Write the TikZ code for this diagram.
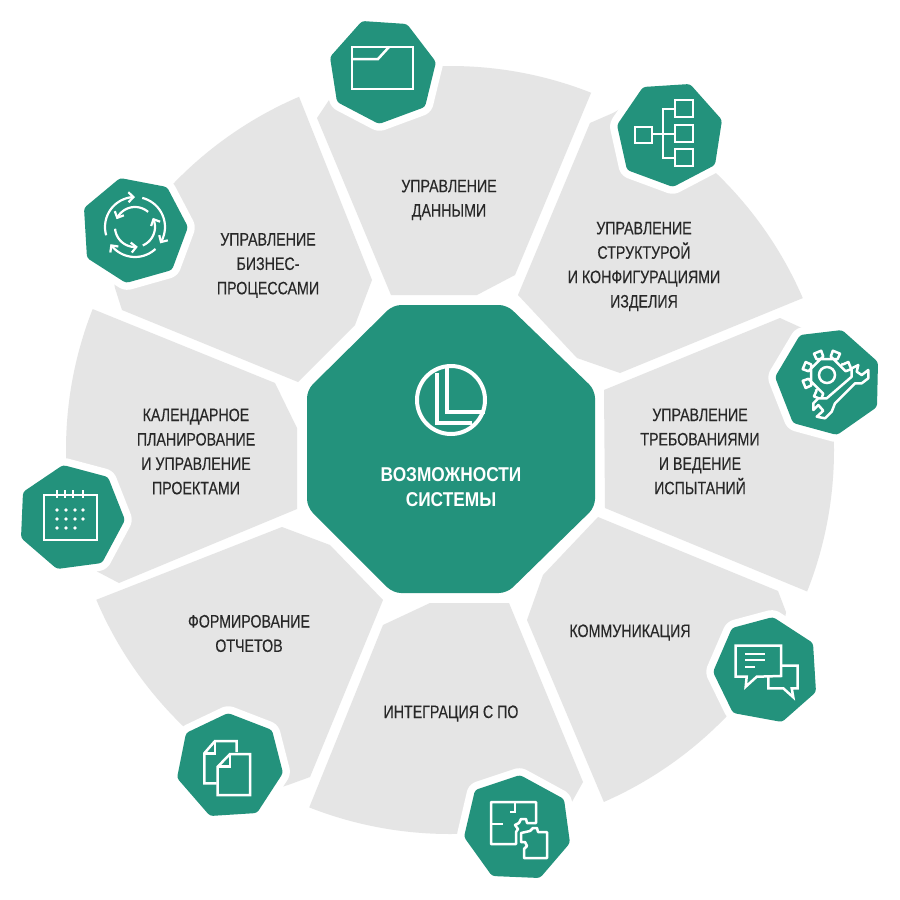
\documentclass[tikz,border=0pt]{standalone}
\usepackage{fontspec}
\usetikzlibrary{arrows.meta}
\newfontfamily\lblfont[FakeStretch=0.79,FakeBold=0.25]{Liberation Sans}
\newfontfamily\hubfont[FakeStretch=0.865]{Liberation Sans}
\definecolor{teal}{RGB}{35,146,124}
\definecolor{pale}{RGB}{229,229,229}
\definecolor{ink}{RGB}{40,40,40}
\tikzset{
  sector/.style={fill=pale,draw=none},
  badge/.style={fill=teal,rounded corners=3pt,preaction={draw=white,line width=15pt,line join=round,rounded corners=3pt}},
  glyph/.style={draw=white,line width=2.5pt,line join=miter},
  cyc/.style={draw=white,line width=2.2pt,-{Straight Barb[length=5pt,width=10pt,line width=2.2pt]}},
  lbl/.style={text=ink,align=center,inner sep=0pt,font=\lblfont\fontsize{18}{24.4}\selectfont},
  hub/.style={text=white,align=center,inner sep=0pt,font=\hubfont\bfseries\fontsize{20}{24.5}\selectfont},
}
\begin{document}
\begin{tikzpicture}[x=1pt,y=-1pt]
\useasboundingbox (0,0) rectangle (900,900);
\fill[white] (0,0) rectangle (900,900);
% sectors, all cut by one circle
\begin{scope}
\clip (450,450) circle (384pt);
\fill[sector] (317,118)--(329,100)--(350,40)--(614,38)--(591,93)--(515,275)--(477,295)--(391,295)--cycle;
\fill[sector] (590,123)--(613,113)--(690,70)--(845,282)--(803,298)--(620,373)--(577,358)--(518,295)--cycle;
\fill[sector] (604,390)--(780,318)--(802,328)--(860,380)--(880,450)--(870,560)--(860,613)--(806,591)--(605,508)--cycle;
\fill[sector] (598,517)--(778,591)--(786,612)--(770,720)--(617,833)--(527,620)--(543,575)--cycle;
\fill[sector] (430,603)--(509,603)--(583,782)--(573,800)--(540,860)--(290,855)--(383,625)--cycle;
\fill[sector] (282,527)--(60,614)--(240,800)--(288,785)--(310,777)--(383,600)--(330,545)--cycle;
\fill[sector] (95,310)--(275,383)--(297,428)--(297,509)--(119,583)--(98,572)--(60,540)--(40,450)--(60,296)--cycle;
\fill[sector] (122,310)--(298,382)--(355,325)--(372,280)--(286,64)--(100,200)--(115,288)--cycle;
\end{scope}
% hub
\fill[teal,rounded corners=8pt] (393,305)--(507,305)--(595,390)--(595,507)--(507,593)--(393,593)--(307,507)--(307,390)--cycle;
\draw[white,line width=4pt] (451,400) circle (34pt);
\draw[white,line width=3.2pt,line join=miter] (437,373)--(437,423)--(472,423);
\draw[white,line width=3.4pt,line join=miter] (447,367)--(447,412)--(485,412);
\node[hub] (hubtext) at (451,487) {ВОЗМОЖНОСТИ\\СИСТЕМЫ};
% badges
\path[badge] (362,21)--(407,24)--(436,62)--(425,107)--(379,124)--(337,102)--(330,57)--cycle;
\path[badge] (643,87)--(690,84)--(722,120)--(715,165)--(673,187)--(627,170)--(617,125)--cycle;
\path[badge] (800,335)--(842,330)--(878,362)--(877,407)--(837,435)--(793,423)--(775,377)--cycle;
\path[badge] (773,617)--(813,643)--(816,692)--(782,722)--(733,713)--(713,672)--(732,628)--cycle;
\path[badge] (520,775)--(564,799)--(570,843)--(540,878)--(492,876)--(464,837)--(475,790)--cycle;
\path[badge] (228,713)--(272,730)--(283,773)--(257,813)--(210,816)--(177,778)--(186,733)--cycle;
\path[badge] (63,465)--(108,477)--(125,520)--(102,563)--(57,569)--(21,538)--(23,492)--cycle;
\path[badge] (120,178)--(167,187)--(188,227)--(172,270)--(126,283)--(87,258)--(84,208)--cycle;
% folder
\draw[glyph] (352,47) rectangle (413,89);
\draw[glyph] (352,59)--(378,59)--(389,47);
% structure
\draw[glyph] (635,127) rectangle (652,143);
\draw[glyph] (675,100) rectangle (693,117);
\draw[glyph] (675,125) rectangle (693,142);
\draw[glyph] (675,149) rectangle (693,166);
\draw[glyph] (675,109)--(663,109)--(663,158)--(675,158);
\draw[glyph] (652,134)--(675,134);
% gear and wrench
\begin{scope}[shift={(827,375)}]
\draw[glyph,line join=round] (-38:18) \foreach \a in {-22.5,-67.5,-112.5,-157.5,157.5,112.5}{ -- (\a-11:19) -- (\a-9:25) -- (\a+9:25) -- (\a+11:19)} -- (128:18);
\draw[glyph] (0,0) circle (8pt);
\end{scope}
\draw[glyph,fill=teal,line join=round] (851.7,376.7)--(851.7,368.3)--(858.3,365)--(856.7,371.7)--(861.7,375)--(868.3,370)--(868.3,378.3)--(861.7,383.3)--(855,383.3)--(835,403.3)--(831.7,411.7)--(825,418.3)--(816.7,416.7)--(823.3,410.7)--(818.3,405)--(813.3,410)--(813.3,403.3)--(818.3,398.3)--(826.7,398.3)--cycle;
% chat
\draw[glyph] (735.7,645.7)--(781,645.7)--(781,676)--(756.7,676.7)--(745.7,686.7)--(746.7,676.7)--(735.7,676.7)--cycle;
\draw[glyph] (781,665.7)--(797.7,665.7)--(797.7,688.3)--(791.7,688.3)--(793.3,697.3)--(783.3,688.3)--(768.3,688.3)--(768.3,677);
\draw[glyph] (745,654)--(765,654) (745,660)--(765,660) (745,667)--(755,667);
% puzzle
\draw[glyph,line join=round] (491,802)--(536,802)--(536,823)--(527,823)--(526,819)--(521,819)--(519,823)--(515,825)--(518,829)--(516,832)--(516,844)--(491,844)--cycle;
\draw[glyph] (515,802)--(515,812)--(510,812);
\draw[glyph] (491,824)--(503,824);
\draw[glyph,line join=round] (530,831)--(533,828)--(537,828)--(538,832)--(547,832)--(547,858)--(524,858)--(524,849)--(527,846)--(525,842)--(521,842)--(521,833)--cycle;
% documents
\draw[glyph] (216.7,783.3)--(204.3,783.3)--(204.3,753.3)--(215,741)--(236.7,741)--(236.7,752);
\draw[glyph] (215,741)--(215,753.3)--(204.3,753.3);
\draw[glyph] (217.7,766.7)--(230,754)--(250,754)--(250,795)--(217.7,795)--cycle;
\draw[glyph] (230,754)--(230,766.7)--(217.7,766.7);
% calendar
\draw[glyph] (44,495) rectangle (97,540);
\foreach \x in {57,65,73,83}{\draw[white,line width=2pt] (\x,490)--(\x,498);}
\foreach \x in {57,66,75,83}{\fill[white] (\x,510) circle (1.8pt); \fill[white] (\x,519) circle (1.8pt);}
\foreach \x in {57,66,75}{\fill[white] (\x,528) circle (1.8pt);}
% cycle
\begin{scope}[shift={(135,227)}]
\draw[cyc] plot[smooth,domain=164:270,samples=20] (\x:30);
\draw[cyc] plot[smooth,domain=284:393,samples=20] (\x:30);
\draw[cyc] plot[smooth,domain=47:145,samples=20] (\x:30);
\draw[cyc] plot[smooth,domain=-49:-157,samples=20] (\x:20);
\draw[cyc] plot[smooth,domain=175:82,samples=20] (\x:20);
\draw[cyc] plot[smooth,domain=67:-27,samples=20] (\x:20);
\end{scope}
% labels
\node[lbl] (t1) at (449,200) {УПРАВЛЕНИЕ\\ДАННЫМИ};
\node[lbl] (t2) at (644,266.5) {УПРАВЛЕНИЕ\\СТРУКТУРОЙ\\И КОНФИГУРАЦИЯМИ\\ИЗДЕЛИЯ};
\node[lbl] (t3) at (700,451.5) {УПРАВЛЕНИЕ\\ТРЕБОВАНИЯМИ\\И ВЕДЕНИЕ\\ИСПЫТАНИЙ};
\node[lbl] (t4) at (630,632.5) {КОММУНИКАЦИЯ};
\node[lbl] (t5) at (451,713.5) {ИНТЕГРАЦИЯ С ПО};
\node[lbl] (t6) at (249,633.5) {ФОРМИРОВАНИЕ\\ОТЧЕТОВ};
\node[lbl] (t7) at (196,451.5) {КАЛЕНДАРНОЕ\\ПЛАНИРОВАНИЕ\\И УПРАВЛЕНИЕ\\ПРОЕКТАМИ};
\node[lbl] (t8) at (268,265.5) {УПРАВЛЕНИЕ\\БИЗНЕС-\\ПРОЦЕССАМИ};
\end{tikzpicture}
\end{document}
